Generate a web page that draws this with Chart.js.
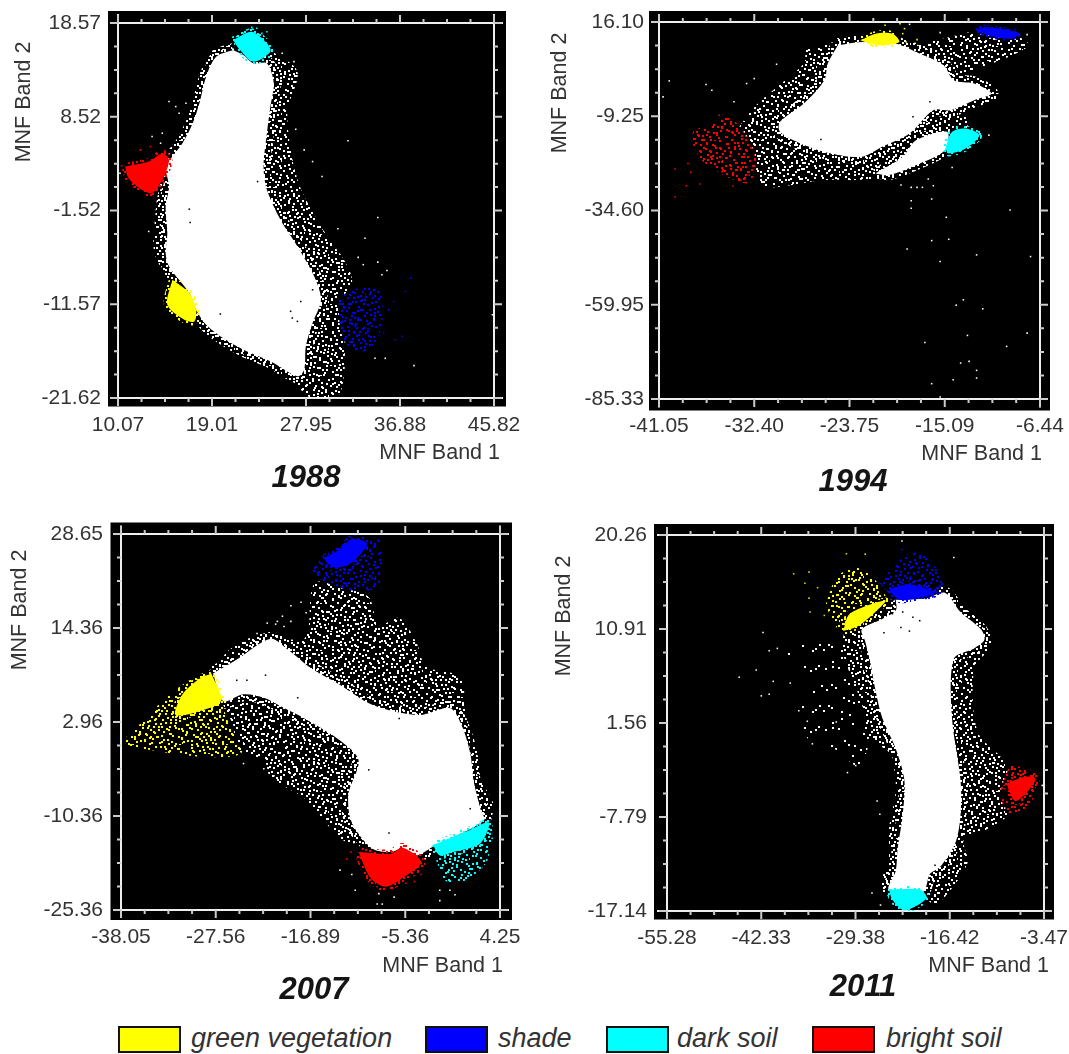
<!DOCTYPE html>
<html>
<head>
<meta charset="utf-8">
<title>MNF scatter plots</title>
<script src="https://cdn.jsdelivr.net/npm/chart.js@4"></script>
<style>
    html, body { margin: 0; padding: 0; background: #fff; }
    #page { position: relative; width: 1069px; height: 1054px; overflow: hidden; font-family: "Liberation Sans", Arial, sans-serif; }
    canvas { position: absolute; filter: blur(0.5px); }
    .swatch { position: absolute; top: 1026px; width: 59px; height: 23px; border: 2px solid #111; }
    .legendText { position: absolute; top: 1022px; font-size: 27px; line-height: 32px; font-style: italic; color: #333; white-space: nowrap; }
</style>
</head>
<body>
<div id="page">
    <canvas id="chart1988"></canvas>
    <canvas id="chart1994"></canvas>
    <canvas id="chart2007"></canvas>
    <canvas id="chart2011"></canvas>
    <div class="swatch" style="left:118px;background:#ffff00"></div>
    <div class="legendText" style="left:191px">green vegetation</div>
    <div class="swatch" style="left:425px;background:#0000ff"></div>
    <div class="legendText" style="left:498px">shade</div>
    <div class="swatch" style="left:606px;background:#00ffff"></div>
    <div class="legendText" style="left:677px">dark soil</div>
    <div class="swatch" style="left:812px;background:#ff0000"></div>
    <div class="legendText" style="left:886px">bright soil</div>
</div>
<script>
// Tick labels, top to bottom on the y axes
const xLabels1988 = ['10.07', '19.01', '27.95', '36.88', '45.82'];
const yLabels1988 = ['18.57', '8.52', '-1.52', '-11.57', '-21.62'];
const xLabels1994 = ['-41.05', '-32.40', '-23.75', '-15.09', '-6.44'];
const yLabels1994 = ['16.10', '-9.25', '-34.60', '-59.95', '-85.33'];
const xLabels2007 = ['-38.05', '-27.56', '-16.89', '-5.36', '4.25'];
const yLabels2007 = ['28.65', '14.36', '2.96', '-10.36', '-25.36'];
const xLabels2011 = ['-55.28', '-42.33', '-29.38', '-16.42', '-3.47'];
const yLabels2011 = ['20.26', '10.91', '1.56', '-7.79', '-17.14'];

// 1988 - outlines of the saturated cloud and the speckled fringe
const core1988 = [[21.02,15.68],[21.99,15.14],[22.95,14.25],[24.23,14.25],[24.88,12.11],[24.56,9.61],[24.23,6.76],[23.91,3.19],[24.23,0.69],[25.52,-2.52],[27.13,-5.38],[28.73,-8.59],[29.37,-11.09],[28.57,-13.59],[27.93,-16.08],[27.77,-18.58],[27.13,-19.3],[24.56,-17.69],[21.99,-16.44],[20.06,-15.19],[18.45,-13.76],[17.49,-12.16],[16.85,-10.37],[14.92,-7.52],[14.6,-6.09],[14.76,-3.95],[14.6,-1.1],[14.92,1.05],[14.6,3.19],[15.24,4.26],[16.2,5.69],[17.17,7.83],[17.81,9.97],[18.45,12.82],[19.42,14.97]];
const fringe1988 = [[24.56,15.68],[27.13,13.36],[26.16,8.9],[27.13,1.76],[29.37,-3.24],[32.27,-8.59],[31.62,-14.66],[31.62,-18.23],[30.98,-21.44],[28.41,-21.62],[26.48,-19.65],[21.99,-16.98],[18.77,-14.66],[17.49,-12.87],[13.64,-6.45],[13.64,-1.81],[13.96,0.69],[14.92,4.26],[16.85,6.76],[17.81,9.25],[18.45,14.25],[19.42,15.68]];
const whiteDots1988 = [[31.94,5.94],[26.97,7.18],[27.77,4.97],[28.57,3.72],[29.47,2.12],[34.77,-2.27],[33.55,-4.49],[30.98,-3.49],[32.91,-6.55],[33.39,-7.33],[34.77,-7.06],[35.64,-7.95],[35.16,-8.41],[34.51,-17.37],[35.48,-17.37],[38.21,-18.15],[45.67,-12.7],[14.92,10.15],[15.56,9.61],[16.53,9.97],[15.88,8.9],[13.31,6.4],[14.28,6.76],[14.12,5.69],[12.99,-3.77],[10.26,2.47],[25.68,15.32],[26.8,14.43],[22.47,13.54],[22.47,13.0]];
const blackDots1988 = [[16.85,-1.38],[16.93,-2.81],[27.45,-11.27],[19.8,-12.62],[26.48,-12.33],[27.13,-13.41],[26.64,-13.05],[28.57,-10.02],[23.34,1.58]];
const greenArea1988 = [[15.24,-8.95],[16.85,-10.37],[17.49,-12.16],[17.33,-13.41],[16.37,-13.23],[14.76,-11.62]];
const shadeSpread1988 = [[30.98,-11.09],[32.27,-10.02],[34.83,-10.02],[35.16,-13.94],[33.87,-16.44],[32.27,-16.44],[31.3,-14.66]];
const shadeDots1988 = [[37.89,-8.77],[37.4,-10.2],[36.28,-11.27],[37.08,-15.01],[36.44,-15.37],[35.32,-14.66],[35.8,-12.16]];
const darkArea1988 = [[21.02,16.75],[22.79,17.64],[24.23,16.39],[24.56,15.5],[22.95,14.43],[21.67,15.68]];
const darkDots1988 = [[22.31,17.82],[23.27,18.0],[24.23,17.64],[21.99,17.46],[21.34,17.11],[24.72,15.68],[23.75,17.46],[22.79,18.1]];
const brightArea1988 = [[10.74,3.19],[12.99,3.72],[14.28,4.62],[14.92,3.9],[14.28,1.76],[13.31,0.33],[12.35,0.69],[11.07,1.94]];
const brightDots1988 = [[13.15,5.33],[12.19,4.97],[10.42,3.26],[12.83,0.15],[13.8,0.87]];

// 1994
const core1994 = [[-24.8,9.83],[-22.63,10.73],[-19.53,10.28],[-17.68,8.04],[-15.2,4.46],[-14.27,0.43],[-12.41,-0.46],[-10.86,-3.15],[-12.41,-4.94],[-14.58,-7.62],[-16.13,-7.62],[-18.29,-13.89],[-20.77,-17.47],[-22.63,-20.16],[-25.42,-19.26],[-28.2,-16.57],[-30.06,-13.44],[-30.06,-10.76],[-27.89,-5.83],[-26.03,0.43],[-25.72,4.91]];
const band1994 = [[-21.39,-24.63],[-18.91,-20.16],[-17.68,-15.68],[-14.89,-13.44],[-15.04,-18.37],[-17.68,-22.4],[-20.15,-25.08]];
const fringe1994 = [[-33.77,-12.1],[-32.23,-6.28],[-30.68,-2.25],[-27.89,4.91],[-27.58,8.94],[-24.8,10.28],[-16.75,10.73],[-12.41,13.41],[-8.39,12.07],[-7.46,9.83],[-9.63,6.25],[-13.96,0.88],[-10.86,-3.15],[-13.34,-6.73],[-13.03,-12.1],[-14.89,-18.37],[-17.68,-22.4],[-20.15,-25.53],[-22.94,-26.42],[-26.03,-26.42],[-30.06,-28.21],[-31.92,-27.76],[-32.54,-20.16]];
const whiteDots1994 = [[-40.12,0.25],[-40.68,-4.04],[-36.78,-0.73],[-36.25,-2.25],[-34.24,-5.38],[-33.09,-0.46],[-32.4,0.88],[-30.37,4.73],[-18.29,15.47],[-15.51,13.24],[-7.61,12.7],[-11.08,-14.34],[-14.42,-23.02],[-16.59,-26.15],[-16.13,-27.94],[-19.07,-27.76],[-18.14,-28.39],[-17.61,-28.39],[-17.12,-28.39],[-16.28,-31.53],[-18.14,-31.97],[-18.14,-34.03],[-9.16,-34.48],[-14.95,-36.45],[-16.28,-42.72],[-14.73,-42.36],[-18.51,-44.95],[-12.2,-46.56],[-7.3,-47.01],[-15.51,-48.35],[-13.4,-58.65],[-14.05,-60.08],[-11.64,-61.07],[-7.61,-67.6],[-13.03,-68.23],[-16.9,-70.11],[-9.47,-71.18],[-13.65,-75.66],[-12.88,-75.21],[-12.2,-77.63],[-12.2,-79.69],[-14.33,-80.13],[-16.28,-81.21],[-15.51,-84.79]];
const blackDots1994 = [[-16.44,-5.38],[-17.98,-9.41],[-26.34,-15.5]];
const greenArea1994 = [[-22.78,11.18],[-21.39,12.97],[-19.84,12.97],[-19.22,10.73],[-21.08,9.83]];
const greenDots1994 = [[-20.52,15.2],[-19.16,15.65],[-18.6,10.73],[-17.61,11.36],[-18.91,12.97],[-18.75,14.31]];
const shadeArea1994 = [[-12.26,13.86],[-11.48,14.76],[-8.39,13.24],[-9.01,11.62],[-10.86,12.25]];
const darkArea1994 = [[-15.04,-17.92],[-14.42,-13.44],[-13.19,-12.55],[-11.95,-14.34],[-13.19,-17.92],[-14.73,-19.26]];
const brightSpread1994 = [[-35.48,-8.52],[-33.77,-11.65],[-32.4,-18.81],[-32.23,-23.74],[-33.16,-27.32],[-36.87,-21.95],[-38.11,-15.68],[-37.8,-12.99],[-36.56,-11.65]];
const brightDots1994 = [[-39.59,-23.47],[-39.59,-30.9],[-38.57,-27.94],[-37.33,-27.5],[-34.33,-28.03],[-38.17,-24.36],[-38.42,-21.95],[-35.32,-24.18],[-32.85,-25.08],[-33.62,-26.42]];

// 2007
const core2007 = [[-27.78,8.62],[-25.13,10.62],[-21.36,13.6],[-19.47,12.11],[-16.82,9.37],[-13.8,7.13],[-10.02,4.14],[-4.74,2.64],[-1.34,3.64],[-0.02,1.15],[0.93,-2.84],[1.31,-6.82],[2.06,-10.81],[2.44,-12.55],[-3.23,-16.29],[-5.11,-17.53],[-6.63,-16.54],[-7.95,-17.04],[-10.02,-16.54],[-12.29,-12.8],[-12.67,-8.81],[-11.54,-3.83],[-13.8,-0.84],[-17.58,2.15],[-19.85,3.64],[-22.11,5.13],[-24.38,5.63],[-26.64,4.64]];
const fringe2007 = [[-27.4,9.62],[-25.89,12.11],[-22.11,14.35],[-17.58,13.6],[-16.45,21.58],[-13.05,20.83],[-10.4,19.58],[-9.27,15.6],[-7,16.59],[-5.11,13.11],[-3.98,9.62],[-0.2,8.12],[0.36,3.64],[1.31,-4.83],[3.57,-10.31],[2.63,-12.8],[-12.29,-15.79],[-14.18,-14.3],[-17.58,-9.31],[-21.36,-6.32],[-22.11,-3.83],[-25.13,-2.34],[-25.51,1.15],[-26.64,4.14]];
const whiteDots2007 = [[-20.6,16.1],[-20.03,16.84],[-19.09,16.1],[-19.85,15.35],[-20.79,15.7],[-19.09,18.34],[-17.96,18.84],[-17.39,17.34],[-21.73,15.85],[-22.87,14.35],[-2.47,-22.51],[-0.77,-23.16],[-2.47,-24.01],[-1.34,-22.51],[-9.27,-23.01],[-8.89,-24.51],[-9.46,-24.51],[-11.91,-22.51],[-13.61,-19.63],[-12.29,-20.27],[-7.57,-23.51],[-24.38,-4.33],[-22.11,-5.08],[-20.98,-6.07]];
const blackDots2007 = [[-18.33,5.13],[-21.92,8.37],[-10.4,-5.23],[-8.14,-14.3],[0.93,-10.81],[-7,2.15],[-25.13,7.63],[-24,7.63]];
const greenArea2007 = [[-27.97,8.62],[-26.83,4.89],[-28.15,3.64],[-31.93,2.64],[-31.18,5.63],[-29.29,7.87]];
const greenSpread2007 = [[-27.97,8.62],[-26.08,1.65],[-24.76,-2.84],[-28.91,-3.33],[-34.95,-2.34],[-37.79,-1.34],[-35.71,1.65],[-33.44,4.64],[-30.42,7.63]];
const shadeArea2007 = [[-12.29,28.05],[-10.59,27.3],[-12.29,24.56],[-14.18,23.82],[-15.31,25.06],[-13.8,26.31]];
const shadeSpread2007 = [[-12.29,28.05],[-9.27,27.8],[-9.08,22.32],[-9.84,20.68],[-13.42,20.83],[-16.63,23.07],[-15.31,25.56]];
const darkArea2007 = [[-3.23,-16.04],[0.55,-14.05],[3.01,-12.8],[2.06,-15.79],[-0.96,-17.04],[-2.47,-17.53]];
const darkSpread2007 = [[-3.23,-16.29],[3.01,-12.8],[2.82,-18.28],[0.17,-21.27],[-1.72,-21.27],[-2.85,-18.28]];
const darkDots2007 = [[3.38,-15.04]];
const brightArea2007 = [[-11.54,-17.04],[-7.95,-17.28],[-6.63,-16.39],[-4.55,-18.53],[-6.63,-20.77],[-8.51,-22.02],[-10.21,-20.77]];
const brightDots2007 = [[-12.86,-18.03],[-12.37,-17.04],[-4.55,-20.27],[-5.3,-21.27],[-6.25,-21.52],[-7.38,-21.02],[-9.46,-22.02]];

// 2011
const core2011 = [[-23.83,13.81],[-19.62,13.98],[-17.04,14.5],[-14.94,12.6],[-12.13,10.88],[-11.66,9.84],[-13.07,8.98],[-15.87,7.94],[-16.11,2.08],[-14.94,-4.13],[-14.94,-7.58],[-15.64,-10.34],[-17.75,-12.76],[-19.15,-13.45],[-20.09,-15.17],[-24.77,-15],[-23.83,-13.1],[-23.6,-11.03],[-22.89,-7.58],[-22.66,-4.13],[-23.83,-1.03],[-25.7,2.08],[-26.64,4.84],[-27.34,7.6],[-28.04,9.67],[-28.51,10.88],[-25.7,11.91],[-23.83,12.77]];
const fringe2011 = [[-30.85,10.7],[-23.83,13.81],[-17.04,14.5],[-10.73,9.67],[-13.07,6.91],[-12.6,0.7],[-8.85,-2.41],[-8.15,-7.24],[-11.19,-8.96],[-14.47,-10],[-14,-12.41],[-18.21,-16.55],[-19.62,-16.03],[-25.7,-14.83],[-24.77,-11.72],[-24.77,-8.96],[-23.83,-4.82],[-24.77,-1.37],[-27.57,0.01],[-28.51,3.46],[-31.32,8.98]];
const sparse2011 = [[-36.47,9.67],[-31.32,9.67],[-28.51,3.46],[-27.57,-0.34],[-28.98,-2.75],[-32.25,-1.03],[-35.53,-0.34],[-37.4,3.11],[-34.59,5.53],[-38.81,8.29]];
const whiteDots2011 = [[-42.08,10.57],[-41.24,8.74],[-40.12,8.98],[-43.02,6.84],[-45.36,6.11],[-42.32,4.26],[-41.24,4.42],[-40.68,5.7],[-38.34,5.53],[-37.17,2.77],[-36,1.73],[-35.3,-0.51],[-30.48,-3.37],[-29.35,-2.68],[-32.02,1.66],[-15.87,18.02],[-22.99,19.67],[-3.71,-4.65],[-26.4,-6.2],[-26.03,-7.51],[-27.11,-15.34],[-25.94,-16.55]];
const blackDots2011 = [[-18.45,-12.58],[-24.3,12.43],[-23.13,11.05],[-21.96,10.7],[-20.55,11.74],[-25.47,10.53],[-22.89,12.6],[-21.49,12.08]];
const greenArea2011 = [[-31.08,10.7],[-30.15,12.43],[-25.23,13.74],[-26.64,12.6],[-28.98,11.22]];
const greenSpread2011 = [[-33.42,13.46],[-31.79,16.22],[-28.51,16.91],[-25.23,14.15],[-26.64,12.6],[-31.08,10.53],[-33.19,12.77]];
const greenDots2011 = [[-36.33,15.46],[-34.59,15.02],[-35.76,16.57],[-37.87,16.4],[-30.62,18.4],[-28.04,18.36],[-35.76,13.98],[-35.62,12.6],[-33.66,12.26]];
const shadeArea2011 = [[-24.77,14.84],[-21.96,15.36],[-18.45,14.5],[-21.02,13.98],[-23.36,13.81]];
const shadeSpread2011 = [[-26.17,15.53],[-21.96,18.47],[-19.15,17.78],[-17.28,14.5],[-23.36,13.81]];
const shadeDots2011 = [[-22.99,18.81]];
const darkArea2011 = [[-24.77,-15],[-20.55,-15],[-19.62,-15.86],[-22.66,-17.07],[-24.3,-16.03]];
const brightArea2011 = [[-8.62,-4.48],[-6.05,-3.79],[-4.64,-3.96],[-5.81,-5.34],[-7.45,-6.2]];
const brightSpread2011 = [[-8.15,-2.58],[-4.17,-3.62],[-5.58,-6.72],[-8.15,-7.41],[-9.56,-5.51]];

const YELLOW = '#ffff00', BLUE = '#0000ff', CYAN = '#00ffff', RED = '#ff0000', WHITE = '#ffffff';

// hand placed speckle tile for the parts of the clouds too dense to list point by point
const speckleTile = [[3,2],[11,5],[19,1],[27,6],[36,3],[44,7],[7,10],[15,12],[23,9],[31,13],[40,11],[2,16],[10,18],[18,15],[26,19],[35,17],[43,15],[6,23],[14,25],[21,21],[29,24],[38,22],[45,26],[1,29],[9,31],[17,28],[25,30],[33,27],[41,32],[5,36],[13,34],[20,37],[28,35],[37,38],[44,36],[3,42],[11,40],[18,44],[26,41],[34,45],[42,43],[8,45],[16,7],[30,2],[46,19],[24,15],[12,28],[37,30],[5,6],[22,33],[39,6],[33,9],[6,14],[13,21],[34,21],[2,24],[42,20],[19,25],[28,28],[7,27],[22,41],[31,37],[40,40],[15,38],[9,38],[45,33],[31,18],[20,12],[1,9],[36,14],[27,45],[38,46],[14,1],[24,3]];

// kind: 'a' plain tile, 'b' larger tile with swapped axes, 'dense' both folded into one tile
function speckle(color, kind, step) {
    const size = kind === 'b' ? 61 : 47;
    const tile = document.createElement('canvas');
    tile.width = size;
    tile.height = size;
    const c = tile.getContext('2d');
    c.fillStyle = color;
    speckleTile.forEach((p, i) => {
        if (i % (step || 1) !== 0) return;
        if (kind === 'b') {
            c.fillRect(Math.round(p[1] * 1.3), Math.round(p[0] * 1.3), 2, 2);
        } else {
            c.fillRect(p[0], p[1], 2, 2);
            if (kind === 'dense') c.fillRect(p[1], (p[0] + 5) % 47, 2, 2);
        }
    });
    return c.createPattern(tile, 'repeat');
}

// filled outline; the thick patterned border roughens the edge
function area(points, fillStyle, edge) {
    return {
        data: points.concat([points[0]]), showLine: true, fill: 'shape', tension: 0.3,
        backgroundColor: fillStyle,
        borderColor: edge ? speckle(fillStyle, 'dense') : 'transparent',
        borderWidth: edge || 0,
        pointRadius: 0
    };
}

// speckled region, two overlaid tiles so the lattice does not show
function cloud(points, color) {
    return [
        area(points, speckle(color, 'a')),
        area(points, speckle(color, 'b'))
    ];
}

function dots(points, color) {
    return { data: points, showLine: false, pointStyle: 'rect', pointRadius: 1.1, pointBorderWidth: 0, pointBackgroundColor: color, clip: false };
}

// first dataset ends up on top
const panels = [
    {
        id: 'chart1988', year: '1988', xLabels: xLabels1988, yLabels: yLabels1988,
        box: { left: 0, top: 0, width: 530, height: 505 },
        pad: { l: 118, r: 36, t: 23, b: 107 }, yPadding: 17,
        margin: { l: 10, r: 12, t: 12, b: 8.5 },
        yTitle: [24, 102], xTitle: [500, 453], yearAt: [306, 478],
        datasets: [
            dots(darkDots1988, CYAN), area(darkArea1988, CYAN, 7),
            dots(brightDots1988, RED), area(brightArea1988, RED, 7),
            area(greenArea1988, YELLOW, 7),
            dots(shadeDots1988, BLUE), ...cloud(shadeSpread1988, BLUE),
            dots(blackDots1988, '#000'), dots(whiteDots1988, WHITE),
            area(core1988, WHITE, 14), ...cloud(fringe1988, WHITE)
        ]
    },
    {
        id: 'chart1994', year: '1994', xLabels: xLabels1994, yLabels: yLabels1994,
        box: { left: 535, top: 0, width: 534, height: 505 },
        pad: { l: 124, r: 29, t: 22, b: 106 }, yPadding: 15,
        margin: { l: 10, r: 10, t: 11, b: 11.5 },
        yTitle: [25.5, 93], xTitle: [507, 454], yearAt: [318, 482],
        datasets: [
            dots(greenDots1994, YELLOW), area(greenArea1994, YELLOW, 5),
            area(shadeArea1994, BLUE, 4),
            area(darkArea1994, CYAN, 6),
            dots(brightDots1994, RED), ...cloud(brightSpread1994, RED),
            dots(blackDots1994, '#000'), dots(whiteDots1994, WHITE),
            area(core1994, WHITE, 14), area(band1994, WHITE, 10), ...cloud(fringe1994, WHITE)
        ]
    },
    {
        id: 'chart2007', year: '2007', xLabels: xLabels2007, yLabels: yLabels2007,
        box: { left: 0, top: 510, width: 530, height: 500 },
        pad: { l: 121, r: 30, t: 24, b: 100 }, yPadding: 18,
        margin: { l: 10.5, r: 12, t: 11.5, b: 10 },
        yTitle: [20, 100], xTitle: [503, 456], yearAt: [314, 480],
        datasets: [
            area(greenArea2007, YELLOW, 7), ...cloud(greenSpread2007, YELLOW),
            area(shadeArea2007, BLUE, 7), ...cloud(shadeSpread2007, BLUE),
            dots(darkDots2007, CYAN), area(darkArea2007, CYAN, 7), ...cloud(darkSpread2007, CYAN),
            dots(brightDots2007, RED), area(brightArea2007, RED, 9),
            dots(blackDots2007, '#000'), dots(whiteDots2007, WHITE),
            area(core2007, WHITE, 14), ...cloud(fringe2007, WHITE)
        ]
    },
    {
        id: 'chart2011', year: '2011', xLabels: xLabels2011, yLabels: yLabels2011,
        box: { left: 535, top: 510, width: 534, height: 500 },
        pad: { l: 132, r: 25, t: 25, b: 99 }, yPadding: 20,
        margin: { l: 13, r: 10, t: 11, b: 8.5 },
        yTitle: [29, 106], xTitle: [514, 456], yearAt: [328, 477],
        datasets: [
            area(greenArea2011, YELLOW, 6), dots(greenDots2011, '#d8d800'), ...cloud(greenSpread2011, YELLOW),
            dots(shadeDots2011, BLUE), area(shadeArea2011, BLUE, 6), ...cloud(shadeSpread2011, BLUE),
            area(darkArea2011, CYAN, 6),
            area(brightArea2011, RED, 8), ...cloud(brightSpread2011, RED),
            dots(blackDots2011, '#000'), dots(whiteDots2011, WHITE),
            area(core2011, WHITE, 12), ...cloud(fringe2011, WHITE), area(sparse2011, speckle(WHITE, 'b', 2))
        ]
    }
];

// black plot background, white frame and tick marks, taken from the chart's scales
const framePlugin = {
    id: 'frame',
    beforeDraw(chart, args, opts) {
        const a = chart.chartArea, m = opts.margin, ctx = chart.ctx;
        ctx.save();
        ctx.fillStyle = '#000';
        ctx.fillRect(a.left - m.l, a.top - m.t, a.right - a.left + m.l + m.r, a.bottom - a.top + m.t + m.b);
        ctx.restore();
    },
    beforeDatasetsDraw(chart, args, opts) {
        const a = chart.chartArea, m = opts.margin, ctx = chart.ctx;
        ctx.save();
        ctx.strokeStyle = '#eee';
        ctx.lineWidth = 2;
        ctx.beginPath();
        [a.top, a.bottom].forEach(y => { ctx.moveTo(a.left - m.l + 3, y); ctx.lineTo(a.right + m.r - 3, y); });
        [a.left, a.right].forEach(x => { ctx.moveTo(x, a.top - m.t + 3); ctx.lineTo(x, a.bottom + m.b - 3); });
        ctx.stroke();
        ctx.strokeStyle = '#ccc';
        ctx.beginPath();
        chart.scales.x.ticks.forEach((t, i) => {
            const x = chart.scales.x.getPixelForValue(t.value), len = i % 4 === 0 ? 8 : 4;
            ctx.moveTo(x, a.top); ctx.lineTo(x, a.top - len);
            ctx.moveTo(x, a.bottom); ctx.lineTo(x, a.bottom + len);
        });
        chart.scales.y.ticks.forEach((t, i) => {
            const y = chart.scales.y.getPixelForValue(t.value), len = i % 4 === 0 ? 8 : 4;
            ctx.moveTo(a.left, y); ctx.lineTo(a.left - len, y);
            ctx.moveTo(a.right, y); ctx.lineTo(a.right + len, y);
        });
        ctx.stroke();
        ctx.restore();
    },
    afterDraw(chart, args, opts) {
        const ctx = chart.ctx;
        ctx.save();
        ctx.fillStyle = '#333';
        ctx.font = '21.5px "Liberation Sans", Arial, sans-serif';
        ctx.textBaseline = 'middle';
        ctx.textAlign = 'right';
        ctx.fillText('MNF Band 1', opts.xTitle[0], opts.xTitle[1]);
        ctx.save();
        ctx.translate(opts.yTitle[0], opts.yTitle[1]);
        ctx.rotate(-Math.PI / 2);
        ctx.textAlign = 'center';
        ctx.fillText('MNF Band 2', 0, 0);
        ctx.restore();
        ctx.fillStyle = '#151515';
        ctx.font = 'italic bold 31px "Liberation Sans", Arial, sans-serif';
        ctx.textAlign = 'center';
        ctx.fillText(opts.year, opts.yearAt[0], opts.yearAt[1]);
        ctx.restore();
    }
};

function sixteenths(scale) {
    const ticks = [];
    for (let i = 0; i <= 16; i++) {
        ticks.push({ value: scale.min + i * (scale.max - scale.min) / 16 });
    }
    scale.ticks = ticks;
}

// the frame has to sit where the picture has it, so no room is made for the end labels
function noLabelPadding(scale) {
    scale.paddingLeft = 0;
    scale.paddingRight = 0;
    scale.paddingTop = 0;
    scale.paddingBottom = 0;
}

function makeChart(panel) {
    const canvas = document.getElementById(panel.id);
    canvas.width = panel.box.width;
    canvas.height = panel.box.height;
    canvas.style.left = panel.box.left + 'px';
    canvas.style.top = panel.box.top + 'px';
    canvas.style.width = panel.box.width + 'px';
    canvas.style.height = panel.box.height + 'px';

    const tickFont = { family: '"Liberation Sans", Arial, sans-serif', size: 21 };
    return new Chart(canvas.getContext('2d'), {
        type: 'scatter',
        data: { datasets: panel.datasets },
        options: {
            responsive: false,
            animation: false,
            layout: { autoPadding: false, padding: { top: panel.pad.t, right: panel.pad.r } },
            plugins: {
                legend: { display: false },
                tooltip: { enabled: false },
                frame: { margin: panel.margin, yTitle: panel.yTitle, xTitle: panel.xTitle, yearAt: panel.yearAt, year: panel.year }
            },
            scales: {
                x: {
                    type: 'linear',
                    min: Number(panel.xLabels[0]),
                    max: Number(panel.xLabels[4]),
                    grid: { display: false, drawTicks: false },
                    border: { display: false },
                    afterBuildTicks: sixteenths,
                    afterFit(scale) { scale.height = panel.pad.b; noLabelPadding(scale); },
                    ticks: {
                        autoSkip: false, maxRotation: 0, padding: 15, color: '#333', font: tickFont,
                        callback: (v, i) => (i % 4 === 0 ? panel.xLabels[i / 4] : '')
                    }
                },
                y: {
                    type: 'linear',
                    min: Number(panel.yLabels[4]),
                    max: Number(panel.yLabels[0]),
                    grid: { display: false, drawTicks: false },
                    border: { display: false },
                    afterBuildTicks: sixteenths,
                    afterFit(scale) { scale.width = panel.pad.l; noLabelPadding(scale); },
                    ticks: {
                        autoSkip: false, padding: panel.yPadding, color: '#333', font: tickFont,
                        callback: (v, i) => (i % 4 === 0 ? panel.yLabels[4 - i / 4] : '')
                    }
                }
            }
        },
        plugins: [framePlugin]
    });
}

panels.forEach(makeChart);
</script>
</body>
</html>
